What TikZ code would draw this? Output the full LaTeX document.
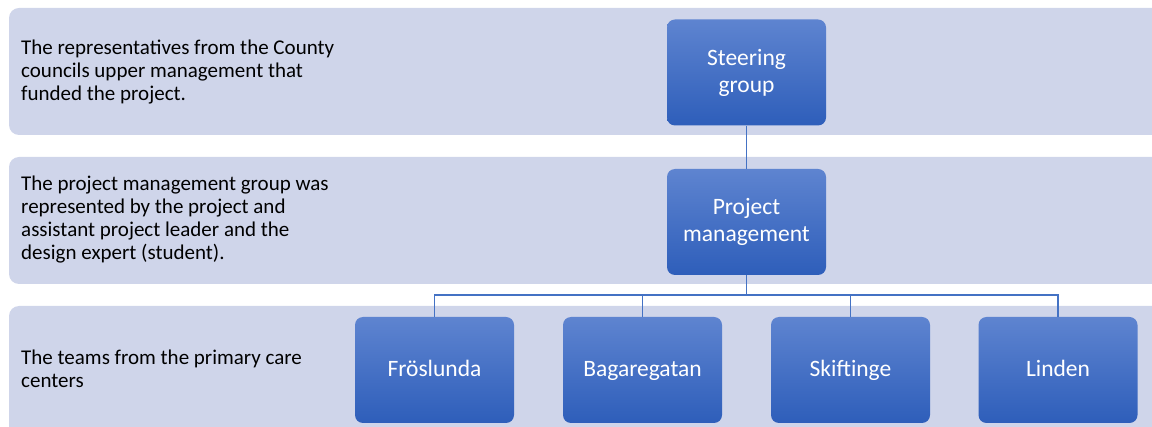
\documentclass[tikz,border=0pt]{standalone}
\usepackage{fontspec}
\setmainfont{Carlito}
\definecolor{bandfill}{HTML}{CFD5EA}
\definecolor{boxtop}{HTML}{5E84D0}
\definecolor{boxbot}{HTML}{2E5EBA}
\definecolor{linkcol}{HTML}{4472C4}
\begin{document}
\begin{tikzpicture}[x=1pt,y=-1pt,
  band/.style={fill=bandfill,draw=none},
  orgbox/.style={rectangle,rounded corners=8pt,minimum width=159pt,minimum height=106pt,
    top color=boxtop,bottom color=boxbot,draw=none,text=white,align=center,
    font=\fontsize{23.5}{27}\selectfont},
  oneline/.style={text height=16pt,text depth=2pt},
  desc/.style={anchor=west,align=left,text=black,inner sep=0pt,
    font=\fontsize{21}{23}\selectfont},
  link/.style={draw=linkcol,line width=1.2pt}]
\useasboundingbox (0,0) rectangle (1152,427);
% bands
\fill[band,rounded corners=10pt] (9,8) -- (1170,8) -- (1170,135) -- (9,135) -- cycle;
\fill[band,rounded corners=10pt] (9,157) -- (1170,157) -- (1170,284) -- (9,284) -- cycle;
\fill[band,rounded corners=10pt] (9,306) -- (1170,306) -- (1170,450) -- (9,450) -- cycle;
% descriptions
\node[desc] (d1) at (21,72) {The representatives from the County\\councils upper management that\\funded the project.};
\node[desc] (d2) at (21,220) {The project management group was\\represented by the project and\\assistant project leader and the\\design expert (student).};
\node[desc] (d3) at (21,369) {The teams from the primary care\\centers};
% boxes
\node[orgbox] (sg) at (746.5,72.5) {Steering\\group};
\node[orgbox] (pm) at (746.5,222) {Project\\management};
\node[orgbox,oneline] (b1) at (434.5,370) {Fröslunda};
\node[orgbox,oneline] (b2) at (642.5,370) {Bagaregatan};
\node[orgbox,oneline] (b3) at (850.5,370) {Skiftinge};
\node[orgbox,oneline] (b4) at (1058,370) {Linden};
% connectors
\coordinate (bar) at (746.5,295);
\draw[link] (sg.south) -- (pm.north);
\draw[link] (pm.south) -- (bar);
\draw[link] (b1.north) |- (bar);
\draw[link] (b2.north) |- (bar);
\draw[link] (b3.north) |- (bar);
\draw[link] (b4.north) |- (bar);
\end{tikzpicture}
\end{document}
